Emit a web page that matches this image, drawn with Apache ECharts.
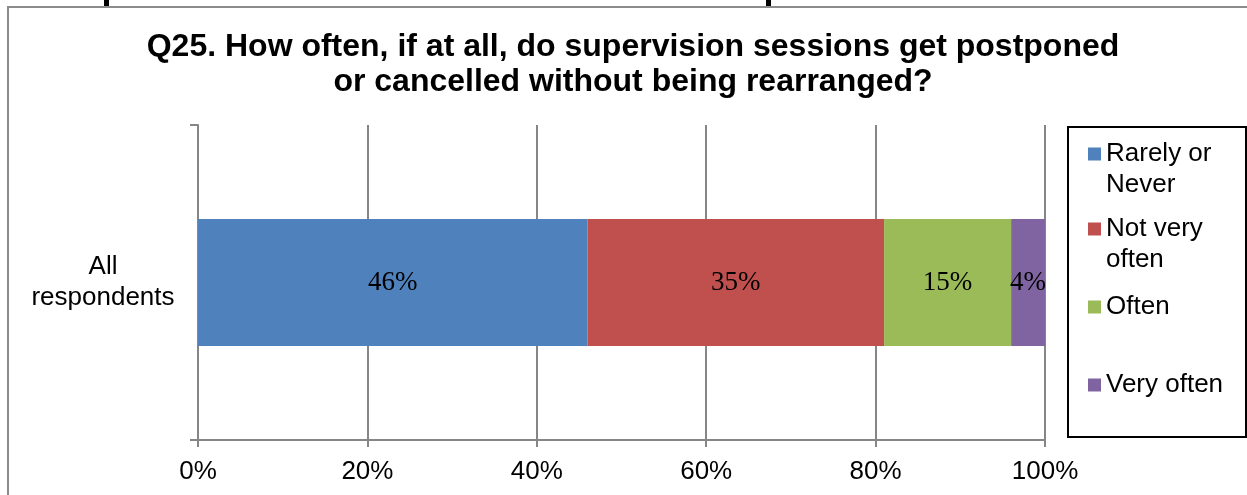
<!DOCTYPE html>
<html>
<head>
<meta charset="utf-8">
<script src="https://cdn.jsdelivr.net/npm/echarts@6/dist/echarts.min.js"></script>
<style>
  html, body { margin: 0; padding: 0; background: #ffffff; }
  #chart { width: 1247px; height: 495px; }
</style>
</head>
<body>
<div id="chart"></div>
<script>
// Survey question and answer categories
const titleText = 'Q25. How often, if at all, do supervision sessions get postponed\nor cancelled without being rearranged?';
const categories = ['All\nrespondents'];

// Share of respondents per answer (percent)
const seriesNames = ['Rarely or Never', 'Not very often', 'Often', 'Very often'];
const rarelyOrNever = [46];
const notVeryOften = [35];
const often = [15];
const veryOften = [4];

// Percentage axis
const axisMin = 0;
const axisMax = 100;
const axisStep = 20;

const colors = ['#4F81BD', '#C0504D', '#9BBB59', '#8064A2'];
const gridGrey = '#868686';
const sans = 'Liberation Sans, Arial, sans-serif';
const serif = 'Liberation Serif, Times New Roman, serif';

const valueSets = [rarelyOrNever, notVeryOften, often, veryOften];

const series = seriesNames.map((name, i) => ({
  name: name,
  type: 'bar',
  stack: 'total',
  barWidth: 127,
  data: valueSets[i],
  itemStyle: { color: colors[i] },
  label: {
    show: true,
    position: 'inside',
    formatter: '{c}%',
    color: '#000',
    fontFamily: serif,
    fontSize: 27
  },
  emphasis: { disabled: true }
}));

// One legend per entry; a leading empty line keeps the swatch beside the first text line
const legendTops = [107.5, 182.5, 291.5, 369.5];
const legendLabels = ['\nRarely or\nNever', '\nNot very\noften', 'Often', 'Very often'];
const legends = seriesNames.map((name, i) => ({
  data: [name],
  orient: 'vertical',
  left: 1088,
  top: legendTops[i],
  padding: 0,
  itemWidth: 13,
  itemHeight: 13,
  icon: 'rect',
  selectedMode: false,
  formatter: () => legendLabels[i],
  textStyle: {
    fontFamily: sans,
    fontSize: 26,
    lineHeight: 31,
    color: '#000'
  }
}));

const chart = echarts.init(document.getElementById('chart'), null, { renderer: 'canvas' });

chart.setOption({
  animation: false,
  backgroundColor: '#ffffff',
  color: colors,
  title: {
    text: titleText,
    left: 633,
    textAlign: 'center',
    top: 30,
    padding: 0,
    textStyle: {
      fontFamily: sans,
      fontSize: 32,
      fontWeight: 'bold',
      lineHeight: 35,
      color: '#000'
    }
  },
  legend: legends,
  grid: {
    left: 198,
    right: 202,
    top: 125,
    bottom: 55,
    containLabel: false
  },
  xAxis: {
    type: 'value',
    min: axisMin,
    max: axisMax,
    interval: axisStep,
    axisLine: { show: true, lineStyle: { color: gridGrey, width: 2 } },
    axisTick: { show: true, length: 7, lineStyle: { color: gridGrey, width: 2 } },
    splitLine: { show: true, lineStyle: { color: gridGrey, width: 2 } },
    axisLabel: {
      formatter: '{value}%',
      margin: 19,
      fontFamily: sans,
      fontSize: 26,
      color: '#000'
    }
  },
  yAxis: {
    type: 'category',
    data: categories,
    axisLine: { show: true, lineStyle: { color: gridGrey, width: 2 } },
    axisTick: { show: true, length: 8, alignWithLabel: false, lineStyle: { color: gridGrey, width: 2 } },
    splitLine: { show: false },
    axisLabel: {
      margin: 95,
      align: 'center',
      fontFamily: sans,
      fontSize: 26,
      lineHeight: 31,
      color: '#000'
    }
  },
  graphic: [
    {
      type: 'rect',
      silent: true,
      shape: { x: 8, y: 7, width: 1300, height: 600 },
      style: { fill: 'none', stroke: '#8c8c8c', lineWidth: 2 }
    },
    {
      type: 'rect',
      silent: true,
      shape: { x: 1068, y: 127, width: 178, height: 310 },
      style: { fill: 'none', stroke: '#000', lineWidth: 2 }
    },
    {
      type: 'rect',
      silent: true,
      shape: { x: 104, y: 0, width: 5, height: 6 },
      style: { fill: '#000' }
    },
    {
      type: 'rect',
      silent: true,
      shape: { x: 766, y: 0, width: 5, height: 6 },
      style: { fill: '#000' }
    }
  ],
  series: series
});
</script>
</body>
</html>
